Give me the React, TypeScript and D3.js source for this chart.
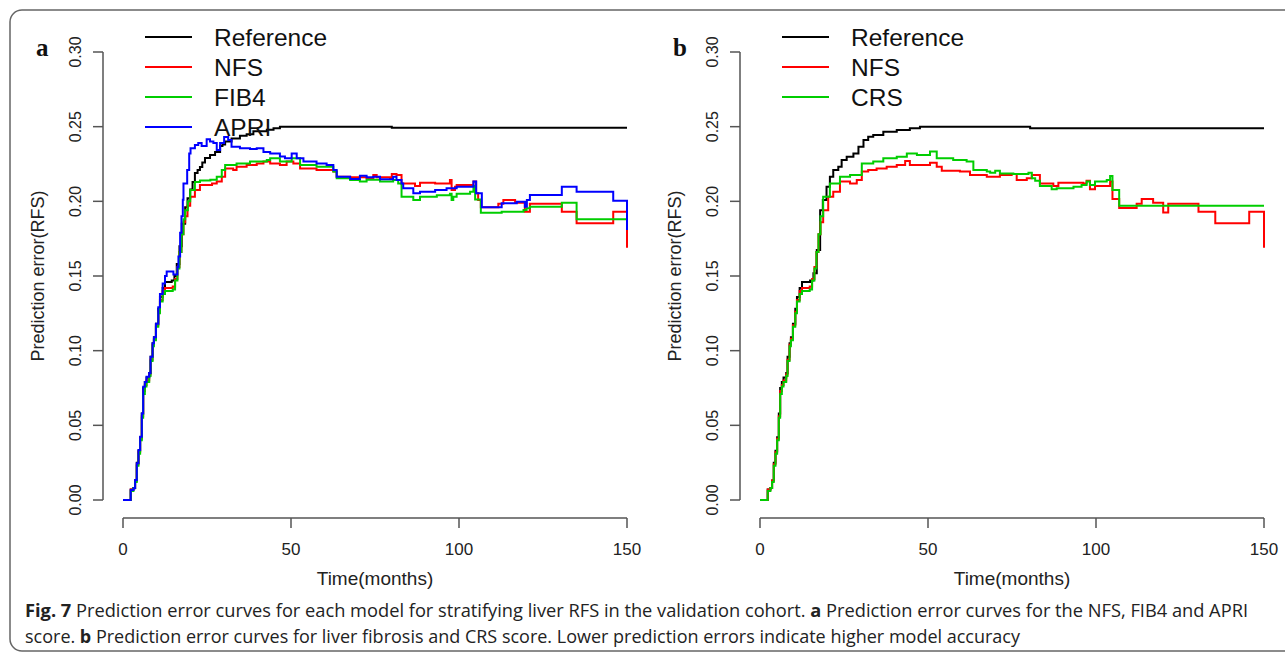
import React from "react";
import * as d3 from "d3";

type Pt = [number, number];

// ---------- Data (time in months, prediction error) ----------
const xTicks = [0, 50, 100, 150];
const yTicks = [0, 0.05, 0.1, 0.15, 0.2, 0.25, 0.3];

const earlyRef: Pt[] = [
  [0, 0], [2, 0], [2.3, 0.007], [3.1, 0.008], [3.6, 0.013], [4.1, 0.025], [4.6, 0.033], [5.1, 0.042],
  [5.6, 0.058], [6.0, 0.075], [6.5, 0.079], [7.0, 0.082], [7.8, 0.085], [8.2, 0.096], [8.8, 0.105],
  [9.2, 0.109], [9.8, 0.118], [10.5, 0.128], [11.0, 0.136], [11.8, 0.142], [12.5, 0.146],
];

const refA: Pt[] = [
  ...earlyRef,
  [14.5, 0.147], [15.3, 0.15], [16.0, 0.158], [16.8, 0.17], [17.5, 0.185], [18.5, 0.196], [19.2, 0.202],
  [20, 0.208], [20.7, 0.213], [21.4, 0.219], [22.2, 0.221], [22.9, 0.223], [23.6, 0.226], [24.4, 0.229],
  [25.9, 0.231], [27.4, 0.233], [28.9, 0.237], [29.6, 0.238], [30.4, 0.24], [32.3, 0.242], [34.8, 0.244],
  [36.8, 0.245], [38.8, 0.247], [42.8, 0.248], [44.8, 0.249], [46.7, 0.25], [80, 0.2493], [150, 0.2493],
];

const nfsA: Pt[] = [
  [0, 0], [2, 0], [2.3, 0.007], [3.1, 0.008], [3.6, 0.013], [4.1, 0.024], [4.6, 0.032], [5.1, 0.041],
  [5.6, 0.056], [6.0, 0.073], [6.5, 0.077], [7.0, 0.08], [7.8, 0.084], [8.2, 0.094], [8.8, 0.104],
  [9.2, 0.108], [9.8, 0.117], [10.5, 0.126], [11.0, 0.134], [11.8, 0.14], [12.5, 0.142], [14.8, 0.143],
  [15.5, 0.148], [16.2, 0.156], [16.8, 0.166], [17.4, 0.178], [18.0, 0.186], [18.5, 0.19], [19.2, 0.197],
  [20, 0.203], [21.4, 0.2076], [22.9, 0.211], [25.9, 0.2109], [26.5, 0.212], [27.9, 0.2132], [29.4, 0.2165],
  [30.4, 0.222], [32.8, 0.221], [33.8, 0.2232], [36.8, 0.2243], [39.8, 0.2254], [41.8, 0.2266], [43.8, 0.2254],
  [46.7, 0.2243], [48.7, 0.2266], [50.7, 0.2254], [52.7, 0.222], [57.6, 0.221], [62.6, 0.2199], [63.6, 0.2165],
  [67.6, 0.2161], [72.5, 0.2154], [74.5, 0.2176], [75.5, 0.2161], [79.5, 0.2154], [80.0, 0.2183], [81.4, 0.2176],
  [82.9, 0.212], [86.9, 0.2103], [88.4, 0.2125], [92.9, 0.212], [97.3, 0.2143], [97.8, 0.2076], [98.8, 0.2098],
  [99.3, 0.211], [104.3, 0.2132], [105.1, 0.2054], [105.7, 0.2009], [106.5, 0.196], [111.7, 0.1983],
  [113.2, 0.2009], [116.7, 0.1991], [119.6, 0.1931], [121.1, 0.1983], [130.6, 0.1931], [135, 0.1853],
  [145.9, 0.1931], [150, 0.1689],
];

const fib4A: Pt[] = [
  [0, 0], [2, 0], [2.3, 0.006], [3.1, 0.008], [3.6, 0.012], [4.1, 0.023], [4.6, 0.031], [5.1, 0.04],
  [5.6, 0.055], [6.0, 0.071], [6.5, 0.076], [7.0, 0.079], [7.8, 0.083], [8.2, 0.093], [8.8, 0.103],
  [9.2, 0.107], [9.8, 0.116], [10.5, 0.125], [11.0, 0.133], [11.8, 0.138], [12.5, 0.14], [14.8, 0.141],
  [15.5, 0.147], [16.2, 0.155], [16.8, 0.166], [17.4, 0.178], [18.0, 0.188], [18.5, 0.194], [19.3, 0.2],
  [20, 0.2076], [21.4, 0.213], [22.9, 0.214], [26, 0.2145], [27.9, 0.2165], [29.4, 0.221], [30.4, 0.2243],
  [33.8, 0.2254], [37.8, 0.2266], [42.8, 0.2277], [43.8, 0.2288], [46.7, 0.2266], [50.2, 0.2288],
  [52.7, 0.2243], [57.6, 0.2232], [62.6, 0.2199], [63.6, 0.2154], [67.6, 0.2143], [70.5, 0.2132],
  [72.5, 0.2145], [76.5, 0.2132], [80.4, 0.2143], [81.9, 0.212], [82.9, 0.2031], [86.4, 0.2009],
  [88.4, 0.2031], [93.4, 0.204], [97.3, 0.205], [97.8, 0.2009], [98.3, 0.2031], [99.3, 0.205],
  [103.3, 0.2065], [104.3, 0.2103], [104.8, 0.2013], [106.5, 0.1924], [112.7, 0.1931], [119.2, 0.1942],
  [120.1, 0.1953], [121.1, 0.1964], [130.6, 0.1991], [135, 0.188], [150, 0.188],
];

const apriA: Pt[] = [
  [0, 0], [1.9, 0], [2.3, 0.0067], [3.1, 0.0078], [3.6, 0.0134], [4.1, 0.0246], [4.6, 0.0335], [5.1, 0.0424],
  [5.6, 0.058], [6.0, 0.0759], [6.5, 0.079], [7.0, 0.0826], [7.8, 0.085], [8.2, 0.096], [8.8, 0.105],
  [9.2, 0.109], [9.8, 0.118], [10.5, 0.129], [11.0, 0.138], [11.8, 0.145], [12.5, 0.15], [13.0, 0.153],
  [15.0, 0.151], [16.2, 0.156], [16.5, 0.163], [17.0, 0.179], [17.4, 0.19], [17.8, 0.201], [18.0, 0.212],
  [19.1, 0.221], [19.7, 0.232], [20.1, 0.2355], [21.4, 0.2377], [22.4, 0.239], [23.4, 0.237], [24.9, 0.2415],
  [25.9, 0.24], [26.9, 0.239], [27.9, 0.2344], [28.9, 0.239], [30.1, 0.243], [31.3, 0.241], [32.3, 0.2366],
  [34.8, 0.2355], [37.8, 0.235], [39.8, 0.2355], [41.8, 0.233], [43.8, 0.232], [46.7, 0.23], [48.2, 0.2288],
  [50.2, 0.232], [51.7, 0.2288], [53.7, 0.2266], [57.6, 0.2254], [60.6, 0.2243], [62.6, 0.221], [63.6, 0.2165],
  [67.6, 0.215], [70.5, 0.2172], [72.5, 0.2161], [74.5, 0.2165], [76.5, 0.2148], [80.4, 0.2165],
  [81.4, 0.2143], [82.9, 0.212], [83.4, 0.2087], [86.4, 0.2054], [88.4, 0.2065], [92.9, 0.2076],
  [96.3, 0.2087], [99.3, 0.2098], [104.3, 0.2132], [105.1, 0.2054], [106.8, 0.196], [112.7, 0.1987],
  [117.2, 0.1998], [119.6, 0.1964], [120.2, 0.2009], [121.1, 0.2042], [130.6, 0.2098], [135, 0.2065],
  [145.9, 0.2004], [150, 0.1808],
];

const refB: Pt[] = [
  ...earlyRef,
  [14.9, 0.147], [15.9, 0.1518], [16.9, 0.1674], [17.9, 0.194], [18.7, 0.2009], [19.8, 0.2098],
  [20.8, 0.2165], [21.8, 0.221], [23.3, 0.2232], [24.3, 0.2277], [25.8, 0.2299], [27.8, 0.2321],
  [29.3, 0.2366], [30.8, 0.241], [32.2, 0.2433], [33.7, 0.2444], [36.7, 0.2466], [40.7, 0.2478],
  [44.6, 0.2489], [47.6, 0.25], [80.4, 0.2489], [150, 0.2489],
];

const nfsB: Pt[] = [
  [0, 0], [2, 0], [2.3, 0.007], [3.1, 0.008], [3.6, 0.013], [4.1, 0.024], [4.6, 0.032], [5.1, 0.041],
  [5.6, 0.056], [6.0, 0.073], [6.5, 0.077], [7.0, 0.08], [7.8, 0.084], [8.2, 0.094], [8.8, 0.104],
  [9.2, 0.108], [9.8, 0.117], [10.5, 0.126], [11.0, 0.134], [11.8, 0.14], [12.5, 0.142], [14.8, 0.143],
  [15.5, 0.148], [16.2, 0.156], [16.8, 0.166], [17.4, 0.178], [18.0, 0.186], [18.8, 0.194], [20.3, 0.2031],
  [21.8, 0.2065], [23.8, 0.2132], [26.8, 0.212], [28.8, 0.2143], [30.3, 0.2199], [32.2, 0.221], [34.7, 0.222],
  [37.7, 0.2232], [40.7, 0.2243], [43.2, 0.227], [44.6, 0.2243], [50.6, 0.2259], [52.6, 0.2232],
  [54.1, 0.2205], [59.5, 0.2199], [62.5, 0.2176], [67.5, 0.2165], [71.4, 0.2176], [74.9, 0.2183],
  [76.4, 0.2143], [79.4, 0.2154], [80.9, 0.2176], [83.3, 0.212], [87.3, 0.2103], [88.8, 0.2125],
  [96.2, 0.212], [97.2, 0.2138], [98.2, 0.2081], [99.7, 0.2103], [104.2, 0.2132], [104.9, 0.2015],
  [106.9, 0.1955], [112.1, 0.1983], [113.6, 0.2015], [117, 0.1991], [120, 0.1926], [121.5, 0.1983],
  [130.5, 0.1931], [135.5, 0.1853], [145.6, 0.1931], [150, 0.1689],
];

const crsB: Pt[] = [
  [0, 0], [2, 0], [2.3, 0.006], [3.1, 0.008], [3.6, 0.012], [4.1, 0.023], [4.6, 0.031], [5.1, 0.04],
  [5.6, 0.055], [6.0, 0.071], [6.5, 0.076], [7.0, 0.079], [7.8, 0.083], [8.2, 0.093], [8.8, 0.103],
  [9.2, 0.107], [9.8, 0.116], [10.5, 0.125], [11.0, 0.133], [11.8, 0.138], [12.5, 0.14], [14.8, 0.141],
  [15.5, 0.147], [16.2, 0.155], [16.8, 0.166], [17.4, 0.178], [18.0, 0.19], [18.8, 0.2031], [20.8, 0.212],
  [23.8, 0.2165], [26.8, 0.2176], [30.3, 0.2254], [33.7, 0.2266], [36.7, 0.2288], [40.7, 0.2299],
  [43.7, 0.2321], [46.7, 0.231], [50.6, 0.2333], [52.6, 0.2288], [57.5, 0.2277], [61.5, 0.2266],
  [63.5, 0.221], [67.5, 0.2199], [68.5, 0.2192], [70, 0.2205], [71.4, 0.2187], [75.4, 0.2183],
  [79.9, 0.2192], [80.9, 0.2154], [81.9, 0.2138], [83.3, 0.2103], [86.8, 0.2081], [88.3, 0.2087],
  [93.3, 0.2098], [95.7, 0.2109], [97.2, 0.2132], [98.2, 0.2109], [99.7, 0.2132], [103.2, 0.2143],
  [104.2, 0.217], [104.9, 0.2076], [106.9, 0.1971], [150, 0.1971],
];

const seriesA = [
  { name: "Reference", color: "#000000", data: refA },
  { name: "NFS", color: "#FF0000", data: nfsA },
  { name: "FIB4", color: "#00CD00", data: fib4A },
  { name: "APRI", color: "#0000FF", data: apriA },
];
const seriesB = [
  { name: "Reference", color: "#000000", data: refB },
  { name: "NFS", color: "#FF0000", data: nfsB },
  { name: "CRS", color: "#00CD00", data: crsB },
];

const captionLine1 = [
  { t: "Fig. 7", b: true },
  { t: "  Prediction error curves for each model for stratifying liver RFS in the validation cohort. ", b: false },
  { t: "a", b: true },
  { t: " Prediction error curves for the NFS, FIB4 and APRI", b: false },
];
const captionLine2 = [
  { t: "score. ", b: false },
  { t: "b", b: true },
  { t: " Prediction error curves for liver fibrosis and CRS score. Lower prediction errors indicate higher model accuracy", b: false },
];

const AXIS = "#555";
const FONT = "'Liberation Sans', Arial, sans-serif";

function Panel({ x0, label, series }: { x0: number; label: string; series: typeof seriesA }) {
  const x = d3.scaleLinear().domain([0, 150]).range([x0 + 20, x0 + 524]);
  const y = d3.scaleLinear().domain([0, 0.3]).range([500, 52]);
  const line = d3
    .line<Pt>()
    .x((d) => x(d[0]))
    .y((d) => y(d[1]))
    .curve(d3.curveStepAfter);
  const axisX = x0;
  return (
    <g>
      <line x1={axisX} x2={axisX} y1={y(0)} y2={y(0.3)} stroke={AXIS} strokeWidth={1.5} />
      {yTicks.map((t) => (
        <g key={t}>
          <line x1={axisX - 10} x2={axisX} y1={y(t)} y2={y(t)} stroke={AXIS} strokeWidth={1.5} />
          <text
            transform={`translate(${axisX - 22},${y(t)}) rotate(-90)`}
            textAnchor="middle"
            fontFamily={FONT}
            fontSize={16}
            fill="#222"
          >
            {t.toFixed(2)}
          </text>
        </g>
      ))}
      <line x1={x(0)} x2={x(150)} y1={518} y2={518} stroke={AXIS} strokeWidth={1.5} />
      {xTicks.map((t) => (
        <g key={t}>
          <line x1={x(t)} x2={x(t)} y1={518} y2={528} stroke={AXIS} strokeWidth={1.5} />
          <text x={x(t)} y={555} textAnchor="middle" fontFamily={FONT} fontSize={17} fill="#222">
            {t}
          </text>
        </g>
      ))}
      <text x={(x(0) + x(150)) / 2} y={585} textAnchor="middle" fontFamily={FONT} fontSize={19} fill="#222">
        Time(months)
      </text>
      <text
        transform={`translate(${axisX - 59},${276}) rotate(-90)`}
        textAnchor="middle"
        fontFamily={FONT}
        fontSize={18}
        fill="#222"
      >
        Prediction error(RFS)
      </text>
      {series.map((s) => (
        <path key={s.name} d={line(s.data) || ""} fill="none" stroke={s.color} strokeWidth={2} />
      ))}
      {series.map((s, i) => (
        <g key={"lg" + s.name}>
          <line x1={axisX + 42} x2={axisX + 89} y1={37 + i * 30} y2={37 + i * 30} stroke={s.color} strokeWidth={2} />
          <text x={axisX + 111} y={37 + i * 30 + 8.5} fontFamily={FONT} fontSize={24.5} fill="#111">
            {s.name}
          </text>
        </g>
      ))}
      <text
        x={axisX - 67}
        y={56}
        fontFamily="'Liberation Serif', 'DejaVu Serif', serif"
        fontWeight="bold"
        fontSize={25}
        fill="#111"
      >
        {label}
      </text>
    </g>
  );
}

export default function App() {
  const CAP = "'Open Sans', 'Noto Sans', sans-serif";
  return (
    <div style={{ position: "absolute", left: 0, top: 0 }}>
      <svg width={1285} height={655} style={{ display: "block", background: "#fff" }}>
        <rect x={10} y={10} width={1290} height={641} rx={12} ry={12} fill="none" stroke="#666" strokeWidth={1.5} />
        <Panel x0={103} label="a" series={seriesA} />
        <Panel x0={740} label="b" series={seriesB} />
        <text x={25} y={617} fontFamily={CAP} fontSize={17.5} fill="#222" textLength={1223} lengthAdjust="spacingAndGlyphs">
          {captionLine1.map((p, i) => (
            <tspan key={i} fontWeight={p.b ? "bold" : "normal"}>{p.t}</tspan>
          ))}
        </text>
        <text x={25} y={643} fontFamily={CAP} fontSize={17.5} fill="#222" textLength={995} lengthAdjust="spacingAndGlyphs">
          {captionLine2.map((p, i) => (
            <tspan key={i} fontWeight={p.b ? "bold" : "normal"}>{p.t}</tspan>
          ))}
        </text>
      </svg>
    </div>
  );
}
